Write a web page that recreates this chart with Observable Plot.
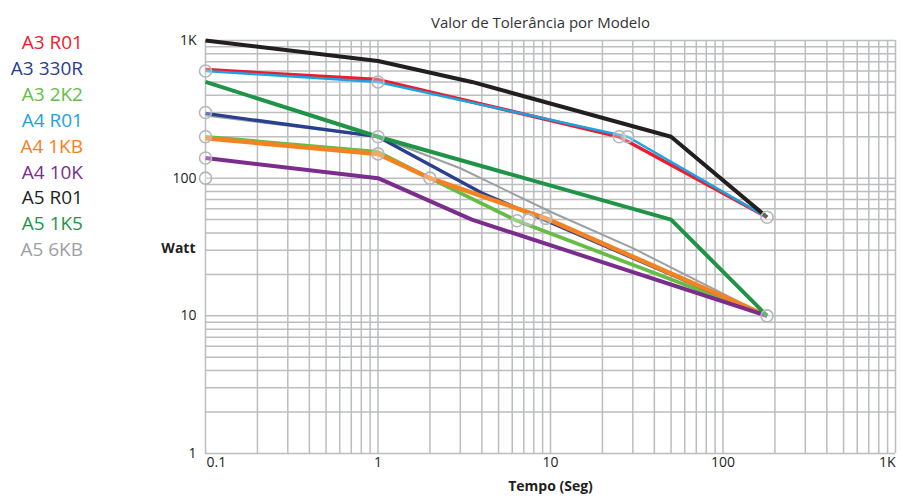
<!DOCTYPE html>
<html>
<head>
<meta charset="utf-8">
<script src="https://cdn.jsdelivr.net/npm/d3@7"></script>
<script src="https://cdn.jsdelivr.net/npm/@observablehq/plot@0.6"></script>
<style>
  html, body { margin: 0; padding: 0; background: #fff; }
  #wrap { position: relative; width: 902px; height: 500px; font-family: "Open Sans", sans-serif; }
  #legend { position: absolute; left: 0; top: 30px; width: 83px; text-align: right; font-size: 19px; line-height: 25.9px; }
  #legend div { white-space: nowrap; }
</style>
</head>
<body>
<div id="wrap"><div id="chart"></div><div id="legend"></div></div>
<script>
// ---- Data ----
const chartTitle = "Valor de Tolerância por Modelo";
const xLabel = "Tempo (Seg)";
const yLabel = "Watt";

const xTicks = [0.1, 1, 10, 100, 1000];
const xTickLabels = ["0.1", "1", "10", "100", "1K"];
const yTicks = [1, 10, 100, 1000];
const yTickLabels = ["1", "10", "100", "1K"];
const gridMantissas = [1, 2, 3, 4, 5, 6, 7, 8, 9];
const xDecades = [0.1, 1, 10, 100];
const yDecades = [1, 10, 100];

const seriesNames = ["A3 R01", "A3 330R", "A3 2K2", "A4 R01", "A4 1KB", "A4 10K", "A5 R01", "A5 1K5", "A5 6KB"];
const seriesColors = ["#ed1c2e", "#27408f", "#66bd45", "#1ba3e0", "#f58220", "#7b2d8e", "#231f20", "#1f9446", "#9d9fa2"];
const seriesWidths = [3.5, 3.3, 3.7, 2.5, 4.5, 4, 4, 4, 2];

// time (s) and power (W) per series
const a3r01_t  = [0.1, 1, 25, 180];
const a3r01_w  = [615, 520, 200, 52];
const a3330r_t = [0.1, 1, 4, 180];
const a3330r_w = [295, 200, 78, 10];
const a32k2_t  = [0.1, 1, 2, 6.4, 180];
const a32k2_w  = [200, 155, 100, 49, 10];
const a4r01_t  = [0.1, 1, 28, 180];
const a4r01_w  = [600, 500, 200, 52];
const a41kb_t  = [0.1, 1, 2, 9.4, 180];
const a41kb_w  = [195, 150, 100, 51, 10];
const a410k_t  = [0.1, 1, 3.5, 180];
const a410k_w  = [140, 100, 50, 10];
const a5r01_t  = [0.1, 1, 3.5, 50, 180];
const a5r01_w  = [1000, 710, 500, 200, 52];
const a51k5_t  = [0.1, 1, 50, 180];
const a51k5_w  = [500, 200, 50, 10];
const a56kb_t  = [0.1, 1, 3, 10, 30, 180];
const a56kb_w  = [285, 200, 118, 57, 31, 10];

// open-circle markers
const markerT = [0.1, 0.1, 0.1, 0.1, 0.1, 1, 1, 1, 2, 6.4, 7.5, 9.4, 25, 28, 180, 180];
const markerW = [600, 300, 200, 140, 100, 500, 200, 150, 100, 49, 50, 51, 200, 200, 52, 10];

// ---- Build tables ----
const seriesT = [a3r01_t, a3330r_t, a32k2_t, a4r01_t, a41kb_t, a410k_t, a5r01_t, a51k5_t, a56kb_t];
const seriesW = [a3r01_w, a3330r_w, a32k2_w, a4r01_w, a41kb_w, a410k_w, a5r01_w, a51k5_w, a56kb_w];
const seriesData = seriesNames.map((name, i) => seriesT[i].map((t, j) => ({name, t, w: seriesW[i][j]})));
const markers = markerT.map((t, i) => ({t, w: markerW[i]}));
const gridX = xDecades.flatMap(d => gridMantissas.map(m => +(m * d).toPrecision(3))).concat([1000]);
const gridY = yDecades.flatMap(d => gridMantissas.map(m => m * d)).concat([1000]);

// drawing order (bottom to top)
const drawOrder = [8, 2, 1, 4, 5, 0, 3, 7, 6];

const gridColor = "#bbbdbf";
const textColor = "#231f20";

const chart = Plot.plot({
  width: 902,
  height: 500,
  marginLeft: 205,
  marginRight: 7,
  marginTop: 40,
  marginBottom: 47,
  style: {fontFamily: "'Open Sans', sans-serif", background: "transparent"},
  x: {type: "log", domain: [0.1, 1000], axis: null},
  y: {type: "log", domain: [1, 1000], axis: null},
  marks: [
    Plot.ruleX(gridX, {x: d => d, stroke: gridColor, strokeWidth: 1.5}),
    Plot.ruleY(gridY, {y: d => d, stroke: gridColor, strokeWidth: 1.5}),
    ...drawOrder.map(i => Plot.line(seriesData[i], {
      x: "t", y: "w", stroke: seriesColors[i], strokeWidth: seriesWidths[i],
      strokeLinejoin: "miter", strokeLinecap: "butt"
    })),
    Plot.dot(markers, {x: "t", y: "w", r: 6, stroke: "#b5b7b9", strokeWidth: 1.6, fill: "white", fillOpacity: 0.3}),
    // x tick labels
    Plot.text([xTicks[0]], {x: d => d, frameAnchor: "bottom", dy: 13, textAnchor: "start", dx: 1,
      text: () => xTickLabels[0], fontSize: 14, fill: textColor}),
    Plot.text(xTicks.slice(1, 4), {x: d => d, frameAnchor: "bottom", dy: 13,
      text: (d, i) => xTickLabels[i + 1], fontSize: 14, fill: textColor}),
    Plot.text([xTicks[4]], {x: d => d, frameAnchor: "bottom", dy: 13, textAnchor: "end", dx: 0,
      text: () => xTickLabels[4], fontSize: 14, fill: textColor}),
    // y tick labels
    Plot.text(yTicks, {y: d => d, frameAnchor: "left", dx: -9, textAnchor: "end",
      text: (d, i) => yTickLabels[i], fontSize: 14, fill: textColor}),
    // axis titles and chart title
    Plot.text([yLabel], {frameAnchor: "left", dx: -10, dy: 2, textAnchor: "end", fontWeight: "bold", fontSize: 14, fill: textColor}),
    Plot.text([xLabel], {frameAnchor: "bottom", dy: 37, fontWeight: "bold", fontSize: 14, fill: textColor}),
    Plot.text([chartTitle], {frameAnchor: "top", dy: -23, dx: -10, fontSize: 15, fill: "#333"})
  ]
});
document.getElementById("chart").appendChild(chart);

const legend = document.getElementById("legend");
seriesNames.forEach((name, i) => {
  const el = document.createElement("div");
  el.textContent = name;
  el.style.color = seriesColors[i];
  legend.appendChild(el);
});
</script>
</body>
</html>
